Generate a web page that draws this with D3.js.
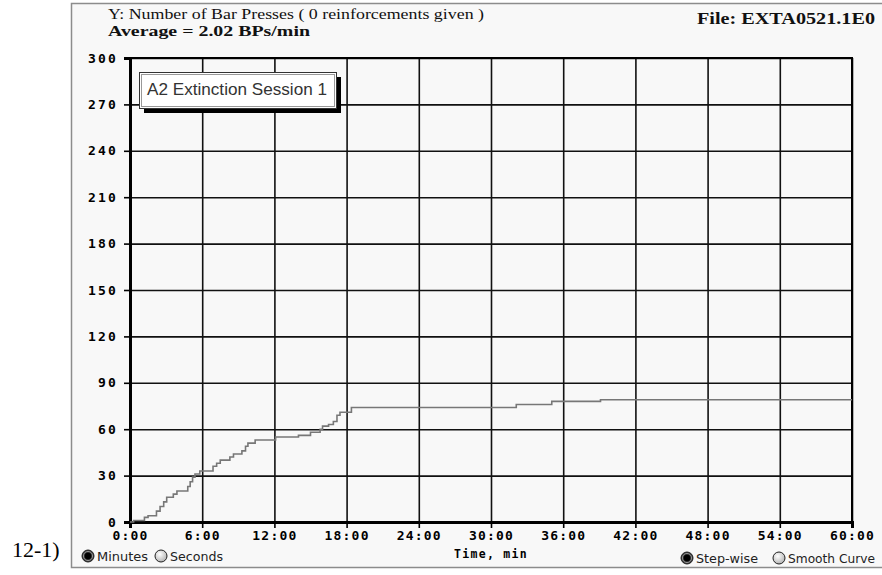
<!DOCTYPE html>
<html>
<head>
<meta charset="utf-8">
<script src="https://cdn.jsdelivr.net/npm/d3@7"></script>
<style>
  html, body { margin: 0; padding: 0; background: #ffffff; }
  svg { display: block; }
</style>
</head>
<body>
<svg id="chart" width="882" height="575"></svg>
<script>
// Cumulative bar presses over the session (minutes, running count)
const pressTimes  = [0, 0.3, 1.2, 1.5, 2.2, 2.5, 2.8, 3.05, 3.6, 3.9, 4.8, 5.0, 5.2, 5.4, 5.8,
                     6.9, 7.2, 7.5, 8.3, 8.6, 9.3, 9.6, 9.8, 10.4, 12.1, 14.0, 15.0, 15.8,
                     16.0, 16.5, 16.9, 17.2, 17.45, 18.4, 32.1, 35.05, 39.1, 60];
const pressCounts = [0, 1, 3, 4, 7, 10, 13, 16, 18, 20, 23, 26, 29, 31, 33,
                     36, 38, 40, 42, 44, 46, 49, 51, 53, 55, 56, 58, 60,
                     62, 63, 65, 69, 71, 74, 76, 78, 79, 79];

const xTickMinutes = [0, 6, 12, 18, 24, 30, 36, 42, 48, 54, 60];
const yTickValues  = [0, 30, 60, 90, 120, 150, 180, 210, 240, 270, 300];

const titleLine   = "Y: Number of Bar Presses ( 0 reinforcements given )";
const averageLine = "Average = 2.02 BPs/min";
const fileLine    = "File: EXTA0521.1E0";
const sessionName = "A2 Extinction Session 1";
const xAxisTitle  = "Time, min";
const panelLabel  = "12-1)";

const svg = d3.select("#chart");

const plot = { left: 130, right: 852, top: 58, bottom: 522 };
const x = d3.scaleLinear().domain([0, 60]).range([plot.left, plot.right]);
const y = d3.scaleLinear().domain([0, 300]).range([plot.bottom, plot.top]);

const monoFont = "'DejaVu Sans Mono', 'Liberation Mono', monospace";
const serifFont = "'Liberation Serif', 'DejaVu Serif', serif";
const sansFont = "'Liberation Sans', Arial, sans-serif";

// Window panel
svg.append("rect")
  .attr("x", 71.5).attr("y", 3.5)
  .attr("width", 812).attr("height", 564)
  .attr("fill", "#f8f8f8")
  .attr("stroke", "#8c8c8c").attr("stroke-width", 1.5);

// Header texts
svg.append("text")
  .attr("x", 108).attr("y", 19)
  .attr("font-family", serifFont).attr("font-size", 15)
  .attr("textLength", 376).attr("lengthAdjust", "spacingAndGlyphs")
  .attr("fill", "#111")
  .text(titleLine);

svg.append("text")
  .attr("x", 108).attr("y", 36)
  .attr("font-family", serifFont).attr("font-size", 15).attr("font-weight", "bold")
  .attr("textLength", 202).attr("lengthAdjust", "spacingAndGlyphs")
  .attr("fill", "#111")
  .text(averageLine);

svg.append("text")
  .attr("x", 697).attr("y", 24)
  .attr("font-family", serifFont).attr("font-size", 16).attr("font-weight", "bold")
  .attr("textLength", 178).attr("lengthAdjust", "spacingAndGlyphs")
  .attr("fill", "#111")
  .text(fileLine);

// Grid lines
const gridG = svg.append("g");
gridG.append("g")
  .attr("transform", `translate(0,${plot.bottom})`)
  .call(d3.axisBottom(x).tickValues(xTickMinutes).tickSize(-(plot.bottom - plot.top)).tickFormat(""))
  .call(g => g.select(".domain").remove())
  .call(g => g.selectAll("line").attr("stroke", "#111").attr("stroke-width", 1.6));
gridG.append("g")
  .attr("transform", `translate(${plot.left},0)`)
  .call(d3.axisLeft(y).tickValues(yTickValues).tickSize(-(plot.right - plot.left)).tickFormat(""))
  .call(g => g.select(".domain").remove())
  .call(g => g.selectAll("line").attr("stroke", "#111").attr("stroke-width", 1.6));

// Frame of the plot area
svg.append("rect")
  .attr("x", plot.left).attr("y", plot.top)
  .attr("width", plot.right - plot.left).attr("height", plot.bottom - plot.top)
  .attr("fill", "none").attr("stroke", "#000").attr("stroke-width", 2);

// Axes with outward ticks
const yAxis = svg.append("g")
  .attr("transform", `translate(${plot.left},0)`)
  .call(d3.axisLeft(y).tickValues(yTickValues).tickSize(6).tickPadding(6).tickFormat(d3.format("d")));
yAxis.select(".domain").attr("stroke", "#000").attr("stroke-width", 3);
yAxis.selectAll(".tick line").attr("stroke", "#000").attr("stroke-width", 1.6);
yAxis.selectAll(".tick text")
  .attr("font-family", monoFont).attr("font-size", 13).attr("font-weight", "bold")
  .attr("letter-spacing", 2.2).attr("fill", "#000");

const xAxis = svg.append("g")
  .attr("transform", `translate(0,${plot.bottom})`)
  .call(d3.axisBottom(x).tickValues(xTickMinutes).tickSize(6).tickPadding(3).tickFormat(m => `${m}:00`));
xAxis.select(".domain").attr("stroke", "#000").attr("stroke-width", 3);
xAxis.selectAll(".tick line").attr("stroke", "#000").attr("stroke-width", 1.6);
xAxis.selectAll(".tick text")
  .attr("font-family", monoFont).attr("font-size", 13).attr("font-weight", "bold")
  .attr("letter-spacing", 1.2).attr("fill", "#000");

svg.append("text")
  .attr("x", (plot.left + plot.right) / 2).attr("y", 558)
  .attr("text-anchor", "middle")
  .attr("font-family", monoFont).attr("font-size", 11.5).attr("font-weight", "bold")
  .attr("letter-spacing", 1.3).attr("fill", "#000")
  .text(xAxisTitle);

// Cumulative record, step-wise
const records = pressTimes.map((t, i) => ({ t, n: pressCounts[i] }));
svg.append("path")
  .datum(records)
  .attr("fill", "none")
  .attr("stroke", "#777")
  .attr("stroke-width", 1.6)
  .attr("d", d3.line().x(d => x(d.t)).y(d => y(d.n)).curve(d3.curveStepAfter));

// Session name box with drop shadow
const box = { x: 139, y: 72, w: 197, h: 36 };
svg.append("rect")
  .attr("x", box.x + 5).attr("y", box.y + 5)
  .attr("width", box.w).attr("height", box.h)
  .attr("fill", "#000");
svg.append("rect")
  .attr("x", box.x + 0.5).attr("y", box.y + 0.5)
  .attr("width", box.w).attr("height", box.h)
  .attr("fill", "#fff").attr("stroke", "#333").attr("stroke-width", 1);
svg.append("rect")
  .attr("x", box.x + 2.5).attr("y", box.y + 2.5)
  .attr("width", box.w - 4).attr("height", box.h - 4)
  .attr("fill", "none").attr("stroke", "#999").attr("stroke-width", 1);
svg.append("text")
  .attr("x", box.x + 8).attr("y", box.y + 23)
  .attr("font-family", sansFont).attr("font-size", 17)
  .attr("textLength", 180).attr("lengthAdjust", "spacingAndGlyphs")
  .attr("fill", "#333")
  .text(sessionName);

// Radio button controls
const defs = svg.append("defs");
const rg = defs.append("radialGradient").attr("id", "radioGrad")
  .attr("cx", "40%").attr("cy", "35%").attr("r", "70%");
rg.append("stop").attr("offset", "0%").attr("stop-color", "#ffffff");
rg.append("stop").attr("offset", "100%").attr("stop-color", "#b0b0b0");

function radio(cx, cy, selected, label, width) {
  const g = svg.append("g");
  g.append("circle").attr("cx", cx).attr("cy", cy).attr("r", 6)
    .attr("fill", selected ? "#333" : "url(#radioGrad)")
    .attr("stroke", "#222").attr("stroke-width", 1);
  if (selected) {
    g.append("circle").attr("cx", cx).attr("cy", cy).attr("r", 3.2).attr("fill", "#000");
    g.append("circle").attr("cx", cx).attr("cy", cy).attr("r", 4.6)
      .attr("fill", "none").attr("stroke", "#aaa").attr("stroke-width", 0.8);
  }
  g.append("text").attr("x", cx + 9).attr("y", cy + 4.5)
    .attr("font-family", "'DejaVu Sans', sans-serif").attr("font-size", 12)
    .attr("textLength", width).attr("lengthAdjust", "spacingAndGlyphs")
    .attr("fill", "#222")
    .text(label);
}

radio(88, 556, true, "Minutes", 51);
radio(161, 556, false, "Seconds", 53);
radio(687, 558, true, "Step-wise", 62);
radio(779, 558, false, "Smooth Curve", 87);

// Panel label at the left margin
svg.append("text")
  .attr("x", 12).attr("y", 557)
  .attr("font-family", serifFont).attr("font-size", 22)
  .attr("fill", "#000")
  .text(panelLabel);
</script>
</body>
</html>
